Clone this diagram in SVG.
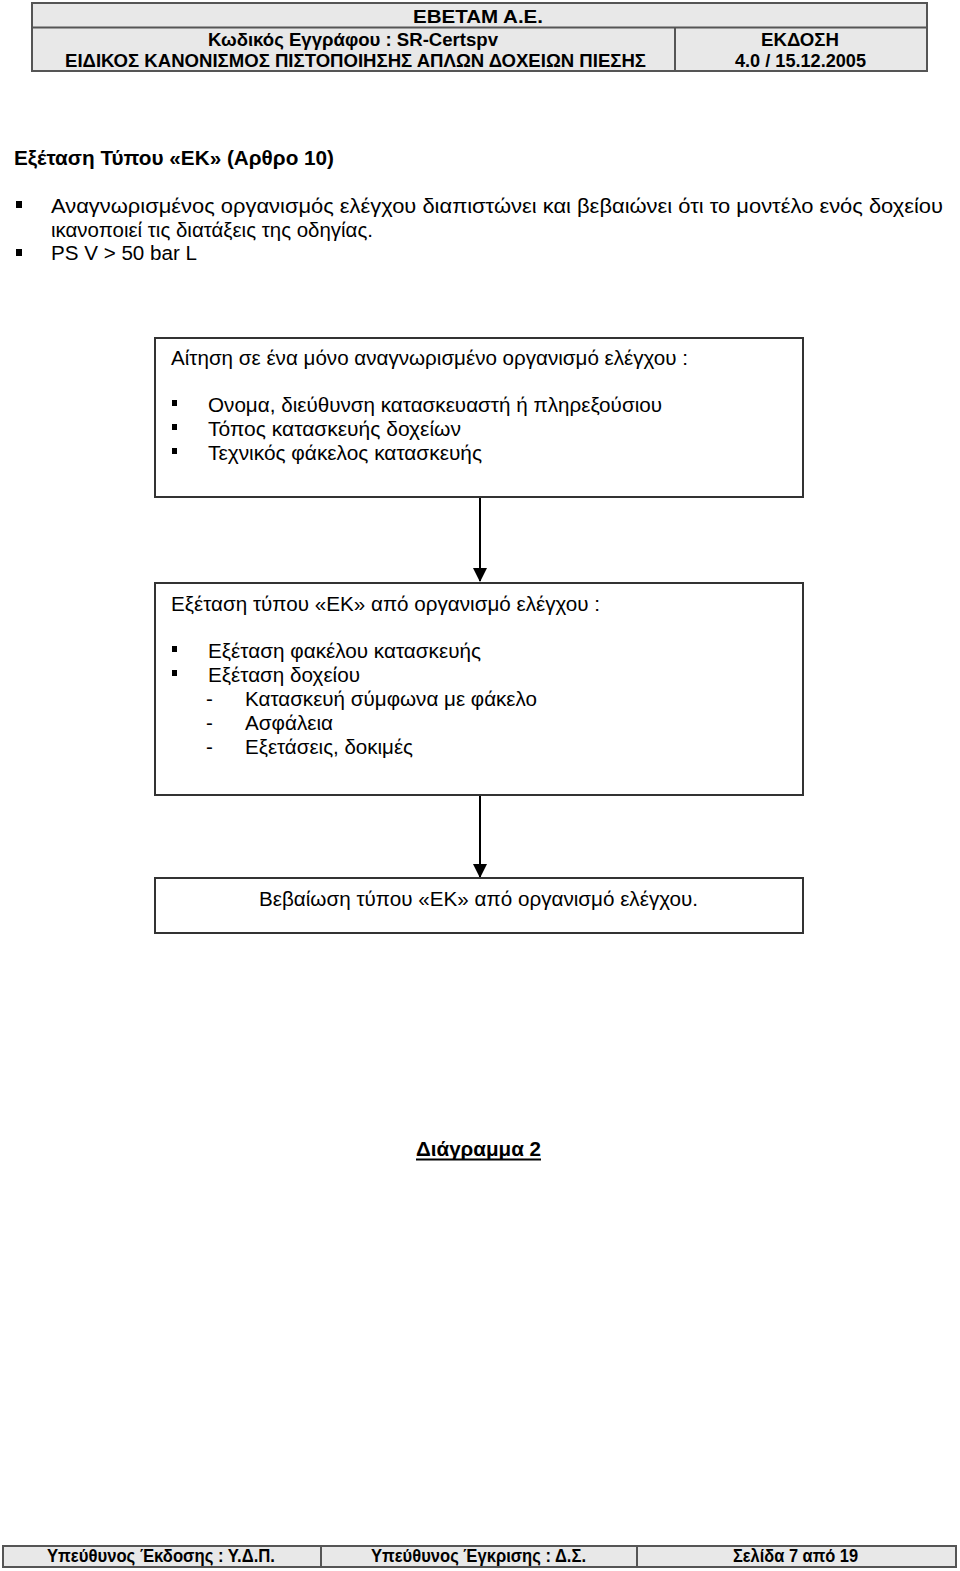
<svg xmlns="http://www.w3.org/2000/svg" width="960" height="1571" viewBox="0 0 960 1571">
<style>
.hb{font-family:"Liberation Sans Narrow","Liberation Sans",Arial,sans-serif;font-weight:bold;font-size:19px;fill:#000}
.t{font-family:"Liberation Sans",Arial,sans-serif;font-size:20.5px;fill:#000}
.tb{font-family:"Liberation Sans",Arial,sans-serif;font-size:20px;font-weight:bold;fill:#000}
.box{fill:#fff;stroke:#333;stroke-width:2}
.hdr{fill:#e8e8e8;stroke:#555;stroke-width:2}
.ln{stroke:#555;stroke-width:2}
.con{stroke:#000;stroke-width:2;fill:none}
.bul{fill:#000}
</style>
<defs>
<marker id="arr" markerWidth="14" markerHeight="14" refX="13" refY="7" orient="auto" markerUnits="userSpaceOnUse">
<path d="M0,0 L14,7 L0,14 Z" fill="#000"/>
</marker>
</defs>
<rect width="960" height="1571" fill="#fff"/>

<g id="header">
<rect class="hdr" x="32" y="3" width="895" height="68"/>
<line class="ln" x1="32" y1="27.5" x2="927" y2="27.5"/>
<line class="ln" x1="675" y1="27.5" x2="675" y2="71"/>
<text class="hb" x="478" y="23" text-anchor="middle" textLength="130" lengthAdjust="spacingAndGlyphs">ΕΒΕΤΑΜ Α.Ε.</text>
<text class="hb" x="353" y="46" text-anchor="middle" textLength="290" lengthAdjust="spacingAndGlyphs">Κωδικός Εγγράφου : SR-Certspv</text>
<text class="hb" x="65" y="67" textLength="581" lengthAdjust="spacingAndGlyphs">ΕΙΔΙΚΟΣ ΚΑΝΟΝΙΣΜΟΣ ΠΙΣΤΟΠΟΙΗΣΗΣ ΑΠΛΩΝ ΔΟΧΕΙΩΝ ΠΙΕΣΗΣ</text>
<text class="hb" x="800" y="46" text-anchor="middle" textLength="78" lengthAdjust="spacingAndGlyphs">ΕΚΔΟΣΗ</text>
<text class="hb" x="735" y="67" textLength="131" lengthAdjust="spacingAndGlyphs">4.0 / 15.12.2005</text>
</g>

<g id="intro">
<text class="tb" x="14" y="165" textLength="320" lengthAdjust="spacingAndGlyphs">Εξέταση Τύπου «ΕΚ» (Αρθρο 10)</text>
<rect class="bul" x="16" y="201" width="6" height="7"/>
<text class="t" x="51" y="213" textLength="892" lengthAdjust="spacingAndGlyphs">Αναγνωρισμένος οργανισμός ελέγχου διαπιστώνει και βεβαιώνει ότι το μοντέλο ενός δοχείου</text>
<text class="t" x="51" y="237" textLength="322" lengthAdjust="spacingAndGlyphs">ικανοποιεί τις διατάξεις της οδηγίας.</text>
<rect class="bul" x="16" y="249" width="6" height="7"/>
<text class="t" x="51" y="260" textLength="146" lengthAdjust="spacingAndGlyphs">PS V &gt; 50 bar L</text>
</g>

<g id="connectors">
<line class="con" x1="480" y1="498" x2="480" y2="581" marker-end="url(#arr)"/>
<line class="con" x1="480" y1="796" x2="480" y2="877" marker-end="url(#arr)"/>
</g>

<g id="node1">
<rect class="box" x="155" y="338" width="648" height="159"/>
<text class="t" x="171" y="365" textLength="517" lengthAdjust="spacingAndGlyphs">Αίτηση σε ένα μόνο αναγνωρισμένο οργανισμό ελέγχου :</text>
<rect class="bul" x="172" y="400" width="5" height="6"/>
<text class="t" x="208" y="412" textLength="454" lengthAdjust="spacingAndGlyphs">Ονομα, διεύθυνση κατασκευαστή ή πληρεξούσιου</text>
<rect class="bul" x="172" y="424" width="5" height="6"/>
<text class="t" x="208" y="436" textLength="253" lengthAdjust="spacingAndGlyphs">Τόπος κατασκευής δοχείων</text>
<rect class="bul" x="172" y="448" width="5" height="6"/>
<text class="t" x="208" y="460" textLength="274" lengthAdjust="spacingAndGlyphs">Τεχνικός φάκελος κατασκευής</text>
</g>

<g id="node2">
<rect class="box" x="155" y="583" width="648" height="212"/>
<text class="t" x="171" y="611" textLength="429" lengthAdjust="spacingAndGlyphs">Εξέταση τύπου «ΕΚ» από οργανισμό ελέγχου :</text>
<rect class="bul" x="172" y="646" width="5" height="6"/>
<text class="t" x="208" y="658" textLength="273" lengthAdjust="spacingAndGlyphs">Εξέταση φακέλου κατασκευής</text>
<rect class="bul" x="172" y="670" width="5" height="6"/>
<text class="t" x="208" y="682" textLength="152" lengthAdjust="spacingAndGlyphs">Εξέταση δοχείου</text>
<text class="t" x="206" y="706">-</text>
<text class="t" x="245" y="706" textLength="292" lengthAdjust="spacingAndGlyphs">Κατασκευή σύμφωνα με φάκελο</text>
<text class="t" x="206" y="730">-</text>
<text class="t" x="245" y="730" textLength="88" lengthAdjust="spacingAndGlyphs">Ασφάλεια</text>
<text class="t" x="206" y="754">-</text>
<text class="t" x="245" y="754" textLength="168" lengthAdjust="spacingAndGlyphs">Εξετάσεις, δοκιμές</text>
</g>

<g id="node3">
<rect class="box" x="155" y="878" width="648" height="55"/>
<text class="t" x="259" y="906" textLength="439" lengthAdjust="spacingAndGlyphs">Βεβαίωση τύπου «ΕΚ» από οργανισμό ελέγχου.</text>
</g>

<g id="caption">
<text class="tb" x="416" y="1156" textLength="125" lengthAdjust="spacingAndGlyphs">Διάγραμμα 2</text>
<line x1="416" y1="1159.5" x2="541" y2="1159.5" stroke="#000" stroke-width="2"/>
</g>

<g id="footer">
<rect class="hdr" x="3" y="1546" width="953" height="21"/>
<line class="ln" x1="321" y1="1546" x2="321" y2="1567"/>
<line class="ln" x1="637" y1="1546" x2="637" y2="1567"/>
<text class="hb" x="47" y="1562" textLength="228" lengthAdjust="spacingAndGlyphs" style="font-size:18px">Υπεύθυνος Έκδοσης : Υ.Δ.Π.</text>
<text class="hb" x="371" y="1562" textLength="215" lengthAdjust="spacingAndGlyphs" style="font-size:18px">Υπεύθυνος Έγκρισης : Δ.Σ.</text>
<text class="hb" x="733" y="1562" textLength="125" lengthAdjust="spacingAndGlyphs" style="font-size:18px">Σελίδα 7 από 19</text>
</g>
</svg>
